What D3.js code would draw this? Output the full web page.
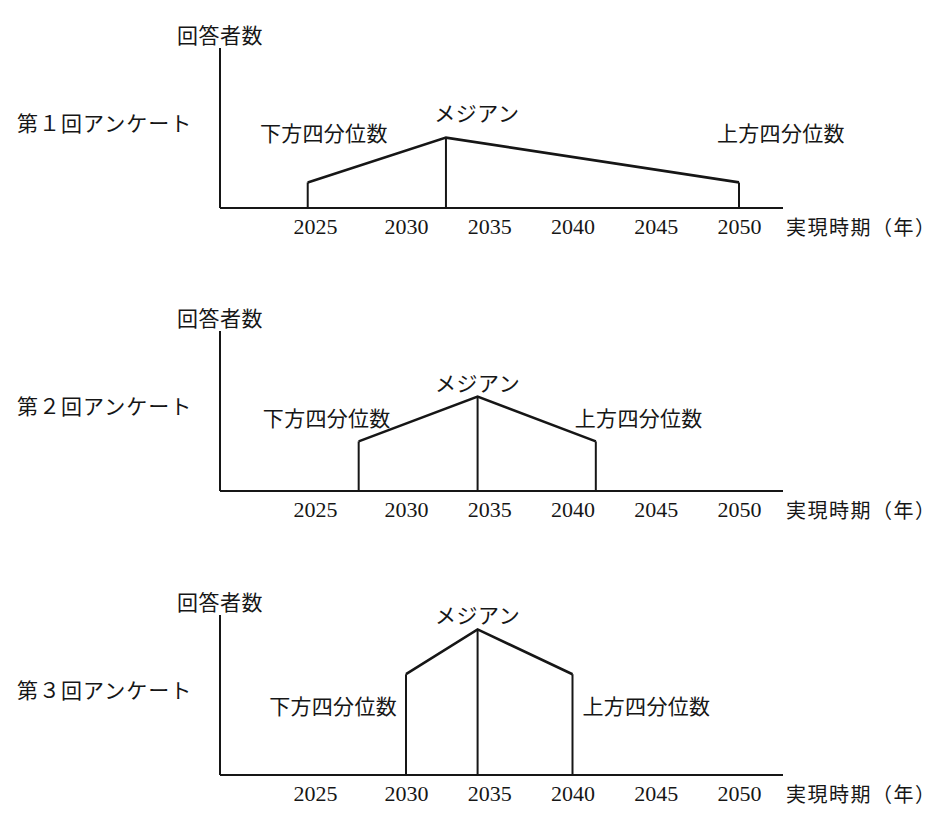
<!DOCTYPE html>
<html>
<head>
<meta charset="utf-8">
<script src="https://cdn.jsdelivr.net/npm/d3@7"></script>
<style>
body { margin: 0; background: white; }
svg { display: block; }
</style>
</head>
<body>
<div id="chart"></div>
<script>
var svgWidth = 942;
var svgHeight = 826;

// data
var years = [2025, 2030, 2035, 2040, 2045, 2050];
var surveys = ["第１回アンケート", "第２回アンケート", "第３回アンケート"];
var lowerYear = [2024.6, 2027.4, 2030];
var medianYear = [2032.4, 2034.3, 2034.3];
var upperYear = [2050, 2041.4, 2040];
var lowerCount = [16, 31, 63];
var medianCount = [44, 59, 91];
var upperCount = [16, 31, 63];

// layout
var yAxisX = 220;
var xAxisEnd = 783;
var axisHeight = 160;
var baselines = [208, 491, 775];
var lowerLabel = [{dx: 80, dy: -50}, {dx: 32, dy: -24}, {dx: -9, dy: 31}];
var upperLabel = [{dx: -22, dy: -50}, {dx: -21, dy: -24}, {dx: 10, dy: 31}];
var medianLabel = [{dx: 31, dy: -26}, {dx: 0, dy: -15}, {dx: 0, dy: -15}];

var jpFont = "'Noto Sans CJK JP', 'Noto Sans', sans-serif";
var numFont = "'Liberation Serif', 'DejaVu Serif', serif";
var ink = "#161616";

var x = d3.scaleLinear()
	.domain([2025, 2030, 2050])
	.range([315, 406, 739]);

var svg = d3.select("div#chart")
	.append("svg")
	.attr("width", svgWidth)
	.attr("height", svgHeight)
	.style("background-color", "white");

var drawPanel = function(i) {
	var base = baselines[i];
	var y = d3.scaleLinear()
		.domain([0, 100])
		.range([base, base - axisHeight]);

	var g = svg.append("g").attr("class", "panel");

	// axes
	g.append("line")
		.attr("x1", yAxisX).attr("x2", yAxisX)
		.attr("y1", y(0)).attr("y2", y(100))
		.attr("stroke", ink).attr("stroke-width", 2);
	g.append("line")
		.attr("x1", yAxisX).attr("x2", xAxisEnd)
		.attr("y1", y(0)).attr("y2", y(0))
		.attr("stroke", ink).attr("stroke-width", 2);

	var axis = g.append("g")
		.attr("transform", "translate(0," + base + ")")
		.call(d3.axisBottom(x).tickValues(years).tickFormat(d3.format("d")).tickSize(0).tickPadding(0));
	axis.select(".domain").remove();
	axis.selectAll("text")
		.attr("dy", null)
		.attr("y", 26)
		.style("font-family", numFont)
		.style("font-size", "22px")
		.style("fill", ink);

	// shape
	var pts = [
		[lowerYear[i], lowerCount[i]],
		[medianYear[i], medianCount[i]],
		[upperYear[i], upperCount[i]]
	];
	var line = d3.line()
		.x(function(d){return x(d[0]);})
		.y(function(d){return y(d[1]);});
	g.append("path")
		.attr("d", line(pts))
		.attr("fill", "none")
		.attr("stroke", ink)
		.attr("stroke-width", 2.6)
		.attr("stroke-linejoin", "miter");
	g.selectAll("line.drop")
		.data(pts)
		.enter()
		.append("line")
		.attr("class", "drop")
		.attr("x1", function(d){return x(d[0]);})
		.attr("x2", function(d){return x(d[0]);})
		.attr("y1", function(d){return y(d[1]);})
		.attr("y2", y(0))
		.attr("stroke", ink)
		.attr("stroke-width", 2);

	// texts
	var addText = function(tx, ty, str, anchor, size, spacing) {
		g.append("text")
			.attr("x", tx)
			.attr("y", ty)
			.attr("text-anchor", anchor)
			.attr("dominant-baseline", "central")
			.style("font-family", jpFont)
			.style("font-size", size + "px")
			.style("letter-spacing", spacing + "px")
			.style("fill", ink)
			.text(str);
	};
	addText(yAxisX - 43, y(100) - 14, "回答者数", "start", 21, 0.5);
	addText(17, base - 86, surveys[i], "start", 21, 1);
	addText(786, base + 18, "実現時期（年）", "start", 20, 1.5);
	addText(x(lowerYear[i]) + lowerLabel[i].dx, y(lowerCount[i]) + lowerLabel[i].dy, "下方四分位数", "end", 21, 0.3);
	addText(x(upperYear[i]) + upperLabel[i].dx, y(upperCount[i]) + upperLabel[i].dy, "上方四分位数", "start", 21, 0.3);
	addText(x(medianYear[i]) + medianLabel[i].dx, y(medianCount[i]) + medianLabel[i].dy, "メジアン", "middle", 21, 0.5);
};

for (var i = 0; i < surveys.length; i++) {
	drawPanel(i);
}
</script>
</body>
</html>
